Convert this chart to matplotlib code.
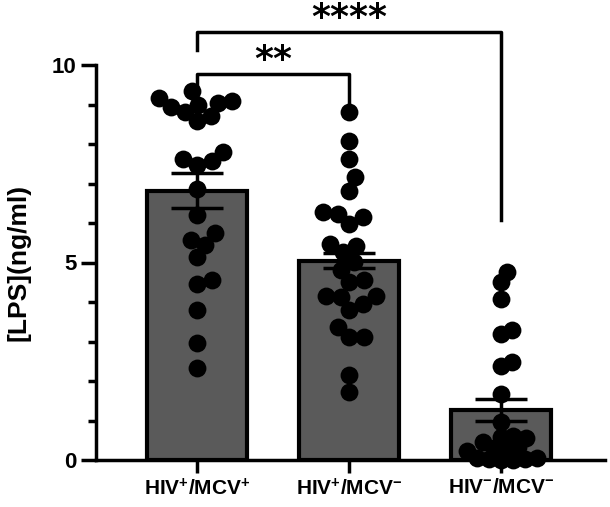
import numpy as np
import matplotlib
matplotlib.use('Agg')
import matplotlib.pyplot as plt

plt.rcParams['font.family'] = ['Liberation Sans', 'DejaVu Sans']
plt.rcParams['mathtext.fontset'] = 'custom'
plt.rcParams['mathtext.rm'] = 'Liberation Sans'
plt.rcParams['mathtext.bf'] = 'Liberation Sans:bold'

groups = [r'$\mathbf{HIV^{+}/MCV^{+}}$', r'$\mathbf{HIV^{+}/MCV^{-}}$', r'$\mathbf{HIV^{-}/MCV^{-}}$']
means = [6.82, 5.05, 1.26]
sems = [0.44, 0.20, 0.28]

hiv_pos_mcv_pos = [8.94, 8.98, 9.05, 9.16, 9.09, 9.33, 8.80, 8.57, 8.71,
                   7.62, 7.47, 7.56, 7.79, 6.86, 6.19, 5.74, 5.57, 5.45,
                   5.13, 4.55, 4.46, 3.79, 2.95, 2.33]
hiv_pos_mcv_neg = [8.80, 8.07, 7.62, 7.17, 6.82, 6.27, 5.98, 6.14, 6.23,
                   5.47, 5.43, 5.26, 5.01, 4.82, 4.55, 4.50, 4.14, 4.12,
                   4.14, 3.80, 3.96, 3.37, 3.11, 3.11, 2.15, 1.72]
hiv_neg_mcv_neg = [4.76, 4.50, 4.08, 3.30, 3.20, 2.48, 2.38, 1.68, 0.97,
                   0.62, 0.58, 0.55, 0.45, 0.33, 0.30, 0.28, 0.22,
                   0.06, 0.04, 0.03, 0.02, 0.00, 0.00]
groups_data = [hiv_pos_mcv_pos, hiv_pos_mcv_neg, hiv_neg_mcv_neg]


def swarm(ax, center, vals, d):
    # simple beeswarm in pixel space, returns x in data units
    tr = ax.transData
    pts = tr.transform([(center, v) for v in vals])
    ys = pts[:, 1]
    xs = np.zeros(len(vals))
    placed = []
    for i in np.argsort(ys):
        y = ys[i]
        cands = [0.0]
        for px, py in placed:
            dy = y - py
            if abs(dy) < d:
                dx = np.sqrt(d * d - dy * dy)
                cands += [px + dx, px - dx]
        cands.sort(key=abs)
        for c in cands:
            if all((c - px) ** 2 + (y - py) ** 2 >= d * d - 1e-6 for px, py in placed):
                xs[i] = c
                break
        placed.append((xs[i], y))
    back = tr.inverted().transform(np.column_stack([pts[:, 0] + xs, ys]))
    return back[:, 0]


fig = plt.figure(figsize=(6.1, 5.07), dpi=100)
ax = fig.add_axes([96 / 610, 1 - 460 / 507, 509 / 610, 395 / 507])
ax.set_xlim(-0.664, 2.684)
ax.set_ylim(0, 10)

x = np.arange(3)
ax.bar(x, means, width=0.66, color='#5a5a5a', edgecolor='black', linewidth=3, zorder=1)
ax.errorbar(x, means, yerr=sems, fmt='none', ecolor='black', elinewidth=2.5,
            capsize=19, capthick=2.5, zorder=2)

for i, vals in enumerate(groups_data):
    xs = swarm(ax, i, vals, [15, 15, 12][i])
    ax.scatter(xs, vals, s=165, color='black', zorder=3, clip_on=False, linewidths=0)

# significance brackets
ax.plot([0, 0, 1, 1], [9.24, 9.77, 9.77, 9.04], color='black', lw=2.5, clip_on=False)
ax.plot([0, 0, 2, 2], [10.38, 10.84, 10.84, 6.08], color='black', lw=2.5, clip_on=False)
star_font = dict(ha='center', va='top', fontsize=26, fontweight='bold', family='DejaVu Sans')
ax.text(0.5, 10.56, '**', **star_font)
ax.text(1.0, 11.62, '****', **star_font)

for s in ['top', 'right']:
    ax.spines[s].set_visible(False)
ax.spines['left'].set_linewidth(2.5)
ax.spines['bottom'].set_linewidth(2.5)

ax.set_yticks([0, 5, 10])
ax.set_yticks(np.arange(0, 11, 1), minor=True)
ax.tick_params(axis='y', which='major', length=11, width=2.5, labelsize=16, pad=3)
ax.tick_params(axis='y', which='minor', length=6, width=2.5)
for t in ax.get_yticklabels():
    t.set_fontweight('bold')

ax.set_xticks(x)
ax.set_xticklabels(groups, fontsize=15)
ax.tick_params(axis='x', length=9, width=2.5, pad=4)

ax.set_ylabel('[LPS](ng/ml)', fontsize=19, fontweight='bold')
ax.yaxis.set_label_coords(-0.128, 0.5)

fig.savefig('out.png', dpi=100)
